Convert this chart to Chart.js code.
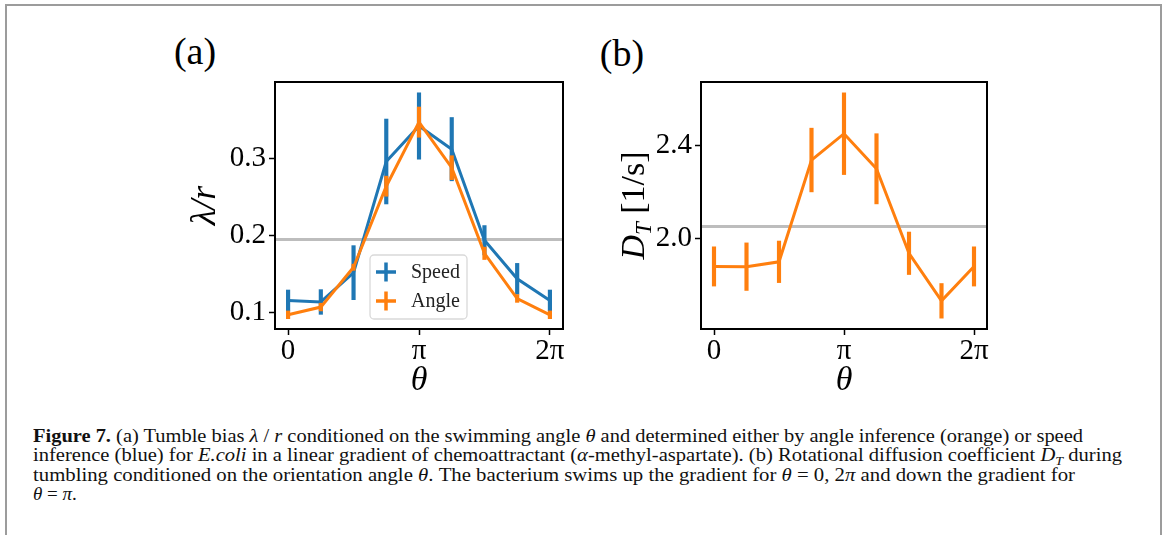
<!DOCTYPE html>
<html>
<head>
<meta charset="utf-8">
<script src="https://cdn.jsdelivr.net/npm/chart.js@4.4.1/dist/chart.umd.min.js"></script>
<style>
  html, body { margin: 0; padding: 0; background: #fff; overflow: hidden; }
  body { width: 1165px; height: 535px; position: relative; font-family: 'Liberation Serif', serif; }
  #frame {
    position: absolute; left: 5px; top: 4px; width: 1157px; height: 600px;
    box-sizing: border-box; border: 2px solid #9c9c9c; border-bottom: none;
  }
  .panel { position: absolute; top: 70px; }
  .tag { position: absolute; font-size: 38px; line-height: 38px; color: #000; transform: translate(-50%, -50%); }
  #caption { position: absolute; left: 33px; top: 426px; font-size: 19px; line-height: 19.3px; color: #111; }
  #caption .ln { white-space: nowrap; height: 19.3px; }
  #caption .ln span.fit { display: inline-block; transform-origin: 0 0; }
  #caption .sub { font-size: 13px; line-height: 0; position: relative; top: 4px; }
</style>
</head>
<body>
<div id="frame"></div>

<div class="tag" style="left:195px; top:51px;">(a)</div>
<div class="tag" style="left:622px; top:53px;">(b)</div>

<canvas id="panelA" class="panel" width="410" height="330" style="left:170px;"></canvas>
<canvas id="panelB" class="panel" width="410" height="330" style="left:590px;"></canvas>

<div id="caption">
  <div class="ln"><span class="fit"><b>Figure 7.</b> (a) Tumble bias <i>λ</i> / <i>r</i> conditioned on the swimming angle <i>θ</i> and determined either by angle inference (orange) or speed</span></div>
  <div class="ln"><span class="fit">inference (blue) for <i>E.coli</i> in a linear gradient of chemoattractant (<i>α</i>-methyl-aspartate). (b) Rotational diffusion coefficient <i>D<span class="sub">T</span></i> during</span></div>
  <div class="ln"><span class="fit">tumbling conditioned on the orientation angle <i>θ</i>. The bacterium swims up the gradient for <i>θ</i> = 0, 2<i>π</i> and down the gradient for</span></div>
  <div class="ln"><span><i>θ</i> = <i>π</i>.</span></div>
</div>

<script>
// swimming angle, in units of pi
var theta = [0, 0.25, 0.5, 0.75, 1, 1.25, 1.5, 1.75, 2];

// (a) tumble bias lambda/r, speed inference vs angle inference
var speedBias = [0.116, 0.114, 0.152, 0.296, 0.342, 0.312, 0.194, 0.144, 0.116];
var speedErr  = [0.0135, 0.016, 0.035, 0.055, 0.043, 0.041, 0.019, 0.02, 0.0135];
var angleBias = [0.0974, 0.1074, 0.159, 0.264, 0.347, 0.288, 0.177, 0.1185, 0.0974];
var angleErr  = [0.005, 0.005, 0.004, 0.013, 0.0196, 0.0155, 0.008, 0.005, 0.005];
var meanBias = 0.195;

// (b) rotational diffusion coefficient during tumbling [1/s]
var rotDiff = [1.877, 1.876, 1.897, 2.338, 2.452, 2.300, 1.934, 1.728, 1.877];
var rotErr  = [0.085, 0.103, 0.09, 0.138, 0.177, 0.152, 0.092, 0.075, 0.085];
var meanRot = 2.05;

// tick positions and labels
var xTicks = [0, 1, 2];
var xTickLabels = ['0', 'π', '2π'];
var yTicksA = [0.1, 0.2, 0.3];
var yTicksB = [2.0, 2.4];

var blue = '#1f77b4';
var orange = '#ff7f0e';

Chart.defaults.font.family = "'Liberation Serif', serif";
Chart.defaults.color = '#000';

function points(vals) {
    return theta.map(function (t, i) { return { x: t, y: vals[i] }; });
}
function bars(vals, errs) {
    return theta.map(function (t, i) { return { x: t, y: [vals[i] - errs[i], vals[i] + errs[i]] }; });
}

// horizontal reference line across the whole axes
var refLine = {
    id: 'refLine',
    beforeDatasetsDraw: function (chart, args, opts) {
        var ctx = chart.ctx, area = chart.chartArea;
        var y = chart.scales.y.getPixelForValue(opts.value);
        ctx.save();
        ctx.strokeStyle = opts.color;
        ctx.lineWidth = opts.width;
        ctx.beginPath();
        ctx.moveTo(area.left, y);
        ctx.lineTo(area.right, y);
        ctx.stroke();
        ctx.restore();
    }
};

// closed box around the plot area
var axesBox = {
    id: 'axesBox',
    afterDatasetsDraw: function (chart) {
        var ctx = chart.ctx, a = chart.chartArea;
        ctx.save();
        ctx.strokeStyle = '#000';
        ctx.lineWidth = 2;
        ctx.strokeRect(a.left, a.top, a.right - a.left, a.bottom - a.top);
        ctx.restore();
    }
};

// legend box with errorbar style markers, placed inside the axes
var boxLegend = {
    id: 'boxLegend',
    afterDraw: function (chart, args, opts) {
        if (!opts.display) return;
        var ctx = chart.ctx, a = chart.chartArea;
        var items = chart.data.datasets.filter(function (d) { return d.type === 'line' && d.label; });
        var x = a.left + opts.left, y = a.top + opts.top;
        ctx.save();
        ctx.beginPath();
        ctx.roundRect(x, y, opts.width, opts.height, 4);
        ctx.fillStyle = 'rgba(255,255,255,0.8)';
        ctx.fill();
        ctx.strokeStyle = '#d9d9d9';
        ctx.lineWidth = 1.3;
        ctx.stroke();
        items.forEach(function (d, i) {
            var cy = y + opts.firstRow + i * opts.rowGap;
            var cx = x + opts.markerX;
            ctx.strokeStyle = d.borderColor;
            ctx.lineWidth = 3.5;
            ctx.beginPath();
            ctx.moveTo(cx - 10, cy);
            ctx.lineTo(cx + 10, cy);
            ctx.moveTo(cx, cy - 9.5);
            ctx.lineTo(cx, cy + 9.5);
            ctx.stroke();
            ctx.fillStyle = '#222';
            ctx.font = "20px 'Liberation Serif', serif";
            ctx.textBaseline = 'middle';
            ctx.textAlign = 'left';
            ctx.fillText(d.label, x + opts.textX, cy + 1);
        });
        ctx.restore();
    }
};

// rotated y title with a subscript: D_T [1/s]
var dtParts = [
    { text: 'D', font: "italic 34px 'Liberation Serif', serif", shift: 0 },
    { text: 'T', font: "italic 23px 'Liberation Serif', serif", shift: 7 },
    { text: ' [1/s]', font: "34px 'Liberation Serif', serif", shift: 0 }
];
var subTitle = {
    id: 'subTitle',
    afterDraw: function (chart, args, opts) {
        var ctx = chart.ctx, a = chart.chartArea;
        ctx.save();
        var widths = dtParts.map(function (p) {
            ctx.font = p.font;
            return ctx.measureText(p.text).width;
        });
        var total = widths.reduce(function (s, w) { return s + w; }, 0);
        ctx.translate(a.left + opts.offset, (a.top + a.bottom) / 2);
        ctx.rotate(-Math.PI / 2);
        ctx.textBaseline = 'alphabetic';
        ctx.textAlign = 'left';
        ctx.fillStyle = '#000';
        var x = -total / 2;
        dtParts.forEach(function (p, i) {
            ctx.font = p.font;
            ctx.fillText(p.text, x, opts.baseline + p.shift);
            x += widths[i];
        });
        ctx.restore();
    }
};

function xAxis() {
    return {
        type: 'linear',
        min: -0.1,
        max: 2.1,
        offset: false,
        afterBuildTicks: function (s) { s.ticks = xTicks.map(function (v) { return { value: v }; }); },
        afterFit: function (s) { s.height = 71; s.paddingLeft = 0; s.paddingRight = 0; },
        grid: { offset: false, drawOnChartArea: false, drawTicks: true, tickLength: 6, tickColor: '#000', tickWidth: 1.5 },
        border: { display: false },
        ticks: {
            font: { size: 29, lineHeight: 1 },
            padding: 2,
            maxRotation: 0,
            callback: function (v, i) { return xTickLabels[i]; }
        },
        title: {
            display: true,
            text: 'θ',
            font: { size: 34, style: 'italic', lineHeight: 1 },
            padding: { top: 0, bottom: 2 }
        }
    };
}

function yAxis(min, max, ticks, width, title) {
    return {
        type: 'linear',
        min: min,
        max: max,
        afterBuildTicks: function (s) { s.ticks = ticks.map(function (v) { return { value: v }; }); },
        afterFit: function (s) { s.width = width; s.paddingTop = 0; s.paddingBottom = 0; },
        grid: { drawOnChartArea: false, drawTicks: true, tickLength: 6, tickColor: '#000', tickWidth: 1.5 },
        border: { display: false },
        ticks: {
            font: { size: 29, lineHeight: 1 },
            padding: 3,
            callback: function (v) { return v.toFixed(1); }
        },
        title: title
    };
}

var ctx = document.getElementById('panelA').getContext('2d');
var chartA = new Chart(ctx, {
    type: 'line',
    plugins: [refLine, axesBox, boxLegend],
    data: {
        datasets: [
            { type: 'line', label: 'Speed', data: points(speedBias), borderColor: blue, borderWidth: 3, pointRadius: 0, tension: 0, order: 4 },
            { type: 'bar', data: bars(speedBias, speedErr), backgroundColor: blue, barThickness: 3.5, borderWidth: 0, grouped: false, order: 3 },
            { type: 'line', label: 'Angle', data: points(angleBias), borderColor: orange, borderWidth: 3, pointRadius: 0, tension: 0, order: 2 },
            { type: 'bar', data: bars(angleBias, angleErr), backgroundColor: orange, barThickness: 3.5, borderWidth: 0, grouped: false, order: 1 }
        ]
    },
    options: {
        responsive: false,
        animation: false,
        events: [],
        layout: { padding: { left: 0, top: 12, right: 17, bottom: 0 } },
        scales: {
            x: xAxis(),
            y: yAxis(0.079, 0.399, yTicksA, 105, {
                display: true,
                text: 'λ/r',
                font: { size: 36, style: 'italic', lineHeight: 1 },
                padding: { top: 18, bottom: 0 }
            })
        },
        plugins: {
            legend: { display: false },
            tooltip: { enabled: false },
            refLine: { value: meanBias, color: '#bdbdbd', width: 3 },
            boxLegend: { display: true, left: 95, top: 173, width: 97, height: 64, firstRow: 17, rowGap: 29, markerX: 16, textX: 41 }
        }
    }
});

var ctx = document.getElementById('panelB').getContext('2d');
var chartB = new Chart(ctx, {
    type: 'line',
    plugins: [refLine, axesBox, subTitle],
    data: {
        datasets: [
            { type: 'line', label: 'D_T', data: points(rotDiff), borderColor: orange, borderWidth: 3, pointRadius: 0, tension: 0, order: 2 },
            { type: 'bar', data: bars(rotDiff, rotErr), backgroundColor: orange, barThickness: 3.5, borderWidth: 0, grouped: false, order: 1 }
        ]
    },
    options: {
        responsive: false,
        animation: false,
        events: [],
        layout: { padding: { left: 0, top: 12, right: 13, bottom: 0 } },
        scales: {
            x: xAxis(),
            y: yAxis(1.606, 2.676, yTicksB, 111, { display: false })
        },
        plugins: {
            legend: { display: false },
            tooltip: { enabled: false },
            refLine: { value: meanRot, color: '#bdbdbd', width: 3 },
            subTitle: { offset: -69, baseline: 12 }
        }
    }
});

// squeeze the caption lines to their justified width
var captionWidths = [1050, 1089, 1042];
document.querySelectorAll('#caption .fit').forEach(function (el, i) {
    var w = el.getBoundingClientRect().width;
    el.style.transform = 'scaleX(' + (captionWidths[i] / w) + ')';
});
</script>
</body>
</html>
